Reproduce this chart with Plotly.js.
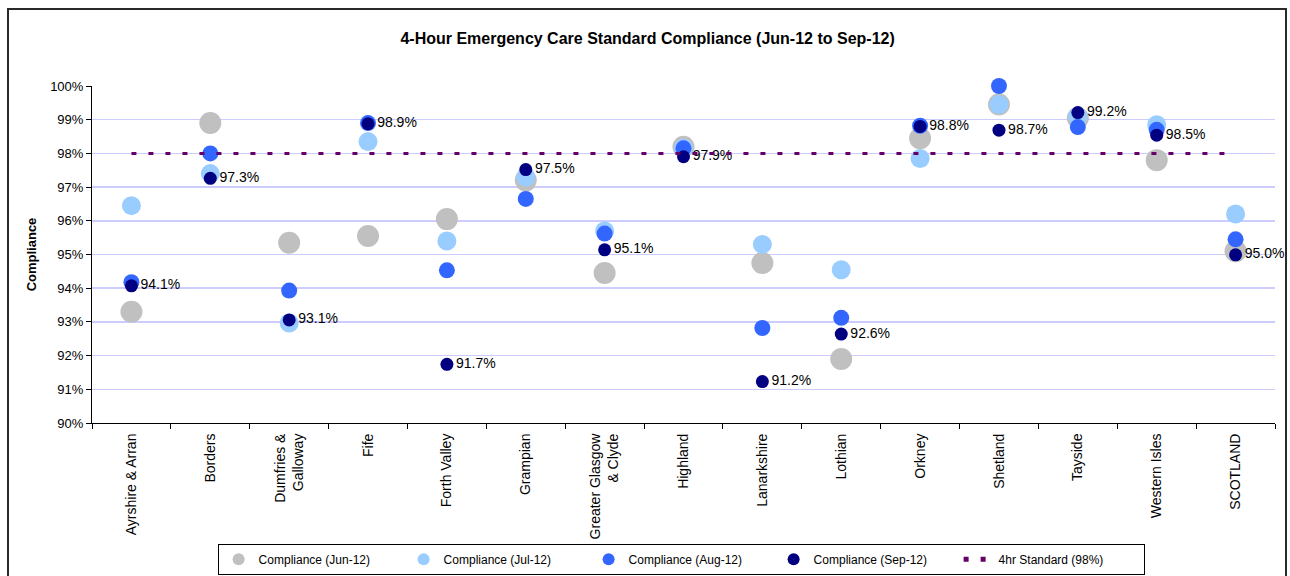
<!DOCTYPE html>
<html>
<head>
<meta charset="utf-8">
<script src="https://cdn.plot.ly/plotly-3.0.1.min.js"></script>
<style>
  html, body { margin: 0; padding: 0; background: #fff; overflow: hidden; }
  #chart { width: 1290px; height: 576px; }
  #frame { position: absolute; left: 7px; top: 8px; width: 1280px; height: 600px;
           border: 2px solid #2a2a2a; box-sizing: border-box; pointer-events: none; }
</style>
</head>
<body>
<div id="chart"></div>
<div id="frame"></div>
<script>
const categories = ["Ayrshire & Arran", "Borders", "Dumfries &<br>Galloway", "Fife", "Forth Valley",
  "Grampian", "Greater Glasgow<br>& Clyde", "Highland", "Lanarkshire", "Lothian",
  "Orkney", "Shetland", "Tayside", "Western Isles", "SCOTLAND"];

const jun12 = [93.3, 98.9, 95.35, 95.55, 96.05, 97.2, 94.45, 98.2, 94.75, 91.9, 98.45, 99.45, 99.05, 97.8, 95.1];
const jul12 = [96.45, 97.4, 92.97, 98.35, 95.4, 97.3, 95.7, 98.15, 95.3, 94.55, 97.85, 99.45, 99.1, 98.85, 96.2];
const aug12 = [94.18, 98.0, 93.93, 98.9, 94.53, 96.65, 95.62, 98.15, 92.82, 93.12, 98.82, 100.0, 98.78, 98.7, 95.45];
const sep12 = [94.07, 97.26, 93.06, 98.88, 91.74, 97.52, 95.14, 97.9, 91.23, 92.64, 98.8, 98.69, 99.21, 98.54, 94.99];
const standard = [98, 98, 98, 98, 98, 98, 98, 98, 98, 98, 98, 98, 98, 98, 98];

const FONT = "Liberation Sans, Arial, sans-serif";

const traces = [
  { x: categories, y: jun12, type: "scatter", mode: "markers", name: "Compliance (Jun-12)",
    cliponaxis: false, marker: { color: "#C0C0C0", size: 22 } },
  { x: categories, y: jul12, type: "scatter", mode: "markers", name: "Compliance (Jul-12)",
    cliponaxis: false, marker: { color: "#99CCFF", size: 19 } },
  { x: categories, y: aug12, type: "scatter", mode: "markers", name: "Compliance (Aug-12)",
    cliponaxis: false, marker: { color: "#3366FF", size: 16 } },
  { x: categories, y: sep12, type: "scatter", mode: "markers+text", name: "Compliance (Sep-12)",
    cliponaxis: false, marker: { color: "#000080", size: 13 },
    texttemplate: "%{y:.1f}%", textposition: "middle right",
    textfont: { family: FONT, size: 14, color: "#000" } },
  { x: categories, y: standard, type: "scatter", mode: "lines", name: "4hr Standard (98%)",
    line: { color: "#660066", width: 3, dash: "5px,12px" } }
];

const layout = {
  width: 1290, height: 576,
  margin: { l: 92, r: 15, t: 86, b: 153 },
  paper_bgcolor: "#fff", plot_bgcolor: "#fff",
  font: { family: FONT, size: 13, color: "#000" },
  title: { text: "<b>4-Hour Emergency Care Standard Compliance (Jun-12 to Sep-12)</b>",
    font: { family: FONT, size: 16, color: "#000" },
    x: 0.502, xref: "container", xanchor: "center", y: 0.934, yref: "container", yanchor: "middle" },
  xaxis: { type: "category", range: [-0.5, 14.5], autorange: false, tickangle: -90, tickson: "boundaries",
    ticks: "outside", ticklen: 5, ticklabelstandoff: 4,
    tickcolor: "#000", showline: true, linecolor: "#000", linewidth: 1, showgrid: false,
    tickfont: { family: FONT, size: 14 }, automargin: false },
  yaxis: { range: [90, 100], autorange: false, dtick: 1, ticksuffix: "%", ticks: "outside", ticklen: 5, tickcolor: "#000",
    showline: true, linecolor: "#000", linewidth: 1, showgrid: true, gridcolor: "#CCCCFF", gridwidth: 1.5,
    zeroline: false, tickfont: { family: FONT, size: 13 },
    title: { text: "<b>Compliance</b>", font: { family: FONT, size: 13 }, standoff: 10 }, automargin: false },
  showlegend: true,
  legend: { orientation: "h", x: 0.528, xref: "container", xanchor: "center",
    y: 0.002, yref: "container", yanchor: "bottom",
    bordercolor: "#000", borderwidth: 1, font: { family: FONT, size: 12 },
    itemsizing: "constant", traceorder: "normal", entrywidth: 140, entrywidthmode: "pixels",
    tracegroupgap: 0 }
};

Plotly.newPlot("chart", traces, layout, { displayModeBar: false, staticPlot: true });
</script>
</body>
</html>
